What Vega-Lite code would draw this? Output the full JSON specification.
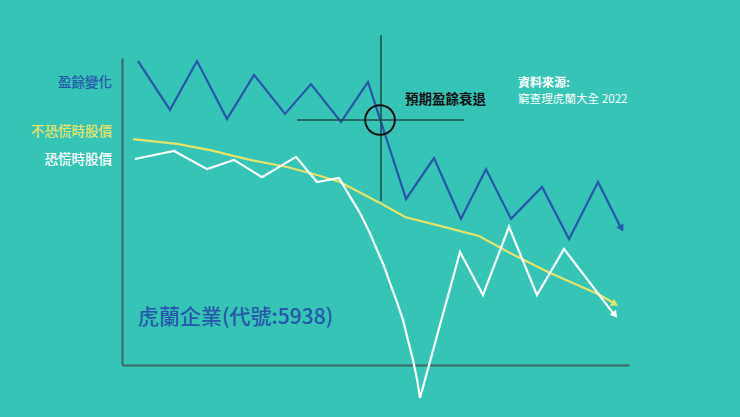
{
  "$schema": "https://vega.github.io/schema/vega-lite/v6.json",
  "width": 507,
  "height": 307,
  "autosize": {"type": "none"},
  "padding": {"left": 122, "top": 58, "right": 111, "bottom": 52},
  "background": "#35c4b6",
  "config": {
    "view": {"stroke": null},
    "font": "Noto Sans CJK TC",
    "text": {"font": "Noto Sans CJK TC"}
  },
  "datasets": {
    "lines": [
      {"series": "盈餘變化", "t": 3.16, "v": 99.0},
      {"series": "盈餘變化", "t": 9.47, "v": 83.1},
      {"series": "盈餘變化", "t": 14.79, "v": 99.0},
      {"series": "盈餘變化", "t": 20.71, "v": 80.1},
      {"series": "盈餘變化", "t": 26.04, "v": 94.5},
      {"series": "盈餘變化", "t": 32.15, "v": 81.8},
      {"series": "盈餘變化", "t": 37.28, "v": 91.5},
      {"series": "盈餘變化", "t": 43.2, "v": 79.2},
      {"series": "盈餘變化", "t": 48.52, "v": 92.2},
      {"series": "盈餘變化", "t": 56.02, "v": 54.1},
      {"series": "盈餘變化", "t": 61.54, "v": 67.4},
      {"series": "盈餘變化", "t": 66.86, "v": 47.6},
      {"series": "盈餘變化", "t": 71.79, "v": 63.8},
      {"series": "盈餘變化", "t": 76.73, "v": 47.6},
      {"series": "盈餘變化", "t": 82.84, "v": 58.0},
      {"series": "盈餘變化", "t": 88.17, "v": 41.0},
      {"series": "盈餘變化", "t": 93.89, "v": 59.6},
      {"series": "盈餘變化", "t": 98.3, "v": 45.0},
      {"series": "不恐慌時股價", "t": 2.17, "v": 73.6},
      {"series": "不恐慌時股價", "t": 10.85, "v": 72.0},
      {"series": "不恐慌時股價", "t": 17.36, "v": 70.0},
      {"series": "不恐慌時股價", "t": 25.25, "v": 66.8},
      {"series": "不恐慌時股價", "t": 32.54, "v": 64.5},
      {"series": "不恐慌時股價", "t": 38.46, "v": 61.9},
      {"series": "不恐慌時股價", "t": 43.0, "v": 59.6},
      {"series": "不恐慌時股價", "t": 50.89, "v": 52.8},
      {"series": "不恐慌時股價", "t": 55.82, "v": 48.2},
      {"series": "不恐慌時股價", "t": 62.72, "v": 45.3},
      {"series": "不恐慌時股價", "t": 70.41, "v": 42.0},
      {"series": "不恐慌時股價", "t": 77.32, "v": 35.8},
      {"series": "不恐慌時股價", "t": 84.02, "v": 30.3},
      {"series": "不恐慌時股價", "t": 94.28, "v": 22.8},
      {"series": "不恐慌時股價", "t": 97.0, "v": 20.2},
      {"series": "恐慌時股價", "t": 2.56, "v": 67.1},
      {"series": "恐慌時股價", "t": 10.26, "v": 69.7},
      {"series": "恐慌時股價", "t": 16.77, "v": 63.8},
      {"series": "恐慌時股價", "t": 22.09, "v": 66.8},
      {"series": "恐慌時股價", "t": 27.61, "v": 61.2},
      {"series": "恐慌時股價", "t": 34.32, "v": 67.8},
      {"series": "恐慌時股價", "t": 38.46, "v": 59.6},
      {"series": "恐慌時股價", "t": 42.8, "v": 60.9},
      {"series": "恐慌時股價", "t": 44.77, "v": 55.4},
      {"series": "恐慌時股價", "t": 46.94, "v": 49.5},
      {"series": "恐慌時股價", "t": 48.72, "v": 43.6},
      {"series": "恐慌時股價", "t": 50.3, "v": 37.5},
      {"series": "恐慌時股價", "t": 51.68, "v": 32.2},
      {"series": "恐慌時股價", "t": 52.86, "v": 26.7},
      {"series": "恐慌時股價", "t": 54.24, "v": 20.5},
      {"series": "恐慌時股價", "t": 55.42, "v": 14.7},
      {"series": "恐慌時股價", "t": 56.41, "v": 8.1},
      {"series": "恐慌時股價", "t": 57.4, "v": 1.6},
      {"series": "恐慌時股價", "t": 58.18, "v": -4.6},
      {"series": "恐慌時股價", "t": 58.78, "v": -10.7},
      {"series": "恐慌時股價", "t": 66.67, "v": 36.8},
      {"series": "恐慌時股價", "t": 71.2, "v": 22.8},
      {"series": "恐慌時股價", "t": 76.33, "v": 45.0},
      {"series": "恐慌時股價", "t": 81.85, "v": 22.8},
      {"series": "恐慌時股價", "t": 87.18, "v": 37.8},
      {"series": "恐慌時股價", "t": 96.9, "v": 16.8}
    ],
    "arrows": [
      {"series": "盈餘變化", "t": 98.54, "v": 44.5, "angle": 152},
      {"series": "不恐慌時股價", "t": 97.24, "v": 19.9, "angle": 120},
      {"series": "恐慌時股價", "t": 97.24, "v": 16.3, "angle": 142}
    ],
    "labels": [
      {"series": "盈餘變化", "t": -1.97, "v": 91.9},
      {"series": "不恐慌時股價", "t": -1.97, "v": 75.9},
      {"series": "恐慌時股價", "t": -1.97, "v": 66.8}
    ]
  },
  "encoding": {
    "x": {
      "field": "t",
      "type": "quantitative",
      "scale": {"domain": [0, 100], "nice": false, "zero": false},
      "axis": {"title": null, "labels": false, "ticks": false, "grid": false, "domainColor": "#3e6763", "domainWidth": 2}
    },
    "y": {
      "field": "v",
      "type": "quantitative",
      "scale": {"domain": [0, 100], "nice": false, "zero": false},
      "axis": {"title": null, "labels": false, "ticks": false, "grid": false, "domainColor": "#3e6763", "domainWidth": 2}
    }
  },
  "layer": [
    {
      "data": {"name": "lines"},
      "mark": {"type": "line", "strokeWidth": 2.2, "clip": false},
      "encoding": {
        "color": {
          "field": "series",
          "type": "nominal",
          "scale": {"domain": ["盈餘變化", "不恐慌時股價", "恐慌時股價"], "range": ["#2757aa", "#e6e36a", "#ffffff"]},
          "legend": null
        }
      }
    },
    {
      "data": {"name": "arrows"},
      "mark": {"type": "point", "shape": "triangle-up", "filled": true, "opacity": 1, "size": 65, "clip": false},
      "encoding": {
        "angle": {"field": "angle", "type": "quantitative", "scale": null},
        "color": {"field": "series", "type": "nominal", "legend": null}
      }
    },
    {
      "data": {"values": [
        {"x": 51.08, "x2": 51.08, "y": 107.5, "y2": 53.4},
        {"x": 34.52, "x2": 67.46, "y": 79.8, "y2": 79.8}
      ]},
      "mark": {"type": "rule", "color": "#1d4d49", "strokeWidth": 1.5, "clip": false},
      "encoding": {
        "x": {"field": "x", "type": "quantitative"},
        "x2": {"field": "x2"},
        "y": {"field": "y", "type": "quantitative"},
        "y2": {"field": "y2"}
      }
    },
    {
      "data": {"values": [{"t": 50.89, "v": 79.8}]},
      "mark": {"type": "point", "shape": "circle", "filled": false, "size": 880, "stroke": "#111111", "strokeWidth": 2, "opacity": 1, "clip": false}
    },
    {
      "data": {"name": "labels"},
      "mark": {"type": "text", "align": "right", "baseline": "middle", "fontSize": 13.5, "fontWeight": 500, "clip": false},
      "encoding": {
        "text": {"field": "series"},
        "color": {"field": "series", "type": "nominal", "legend": null}
      }
    },
    {
      "data": {"values": [{"t": 55.82, "v": 86.3, "label": "預期盈餘衰退"}]},
      "mark": {"type": "text", "align": "left", "baseline": "middle", "fontSize": 13.5, "fontWeight": "bold", "color": "#111111", "clip": false},
      "encoding": {"text": {"field": "label"}}
    },
    {
      "data": {"values": [{"t": 78.11, "v": 91.9, "label": "資料來源:"}]},
      "mark": {"type": "text", "align": "left", "baseline": "middle", "fontSize": 12, "fontWeight": "bold", "color": "#ffffff", "clip": false},
      "encoding": {"text": {"field": "label"}}
    },
    {
      "data": {"values": [{"t": 78.11, "v": 86.3, "label": "窮查理虎蘭大全 2022"}]},
      "mark": {"type": "text", "align": "left", "baseline": "middle", "fontSize": 11.6, "color": "#ffffff", "clip": false},
      "encoding": {"text": {"field": "label"}}
    },
    {
      "data": {"values": [{"t": 3.16, "v": 15.3, "label": "虎蘭企業(代號:5938)"}]},
      "mark": {"type": "text", "align": "left", "baseline": "middle", "fontSize": 21, "fontWeight": 500, "color": "#2757aa", "clip": false},
      "encoding": {"text": {"field": "label"}}
    }
  ]
}
